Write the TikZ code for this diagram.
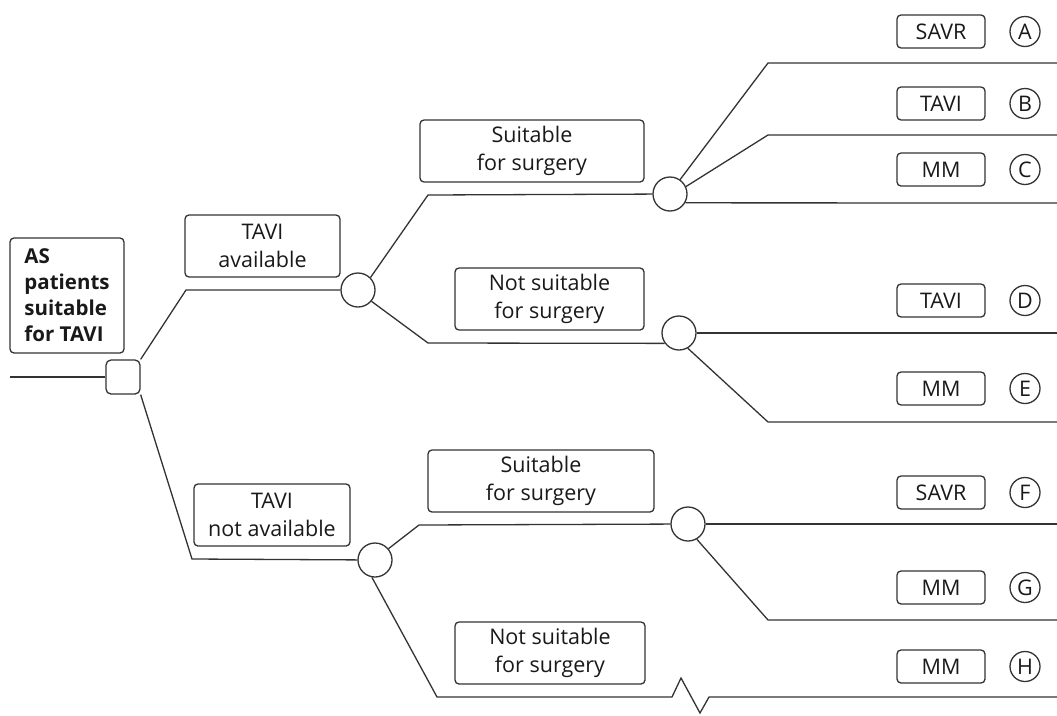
\documentclass[tikz,border=0pt]{standalone}
\usepackage{fontspec}
\setmainfont{Open Sans}
\begin{document}
\begin{tikzpicture}[x=1pt, y=-1pt, line width=1.3pt, color=black!80,
  every node/.style={font=\fontsize{21.5}{27.5}\selectfont, text=black!90}]
  \tikzstyle{opt}=[draw, rounded corners=4pt, align=center, inner sep=0pt, minimum height=62]
  \tikzstyle{res}=[draw, rounded corners=4pt, inner sep=0pt, minimum width=88, minimum height=33]
  \tikzstyle{lbl}=[draw, circle, inner sep=0pt, minimum size=30]
  \tikzstyle{chance}=[draw, circle, inner sep=0pt, minimum size=34]
  \useasboundingbox (0,0) rectangle (1057,715);
  % decision and chance nodes
  \node[draw, rounded corners=5pt, minimum size=34, inner sep=0pt] (dec) at (123,377) {};
  \node[chance] (c1) at (358,290) {};
  \node[chance] (c2) at (375,560) {};
  \node[chance] (c3) at (670,194) {};
  \node[chance] (c4) at (679,333) {};
  \node[chance] (c5) at (688,524) {};
  % labels on the branches
  \node[draw, rounded corners=4pt, minimum width=114, minimum height=115, inner sep=0pt,
        align=left, font=\fontsize{20.5}{26}\selectfont\bfseries] (pat) at (67,295.5)
        {AS\\patients\\suitable\\for TAVI};
  \node[opt, minimum width=155] (avail) at (262.5,246) {TAVI\\available};
  \node[opt, minimum width=156] (notav) at (272,515) {TAVI\\not available};
  \node[opt, minimum width=224] (suit1) at (532,151) {Suitable\\for surgery};
  \node[opt, minimum width=189] (nsuit1) at (549.5,299) {Not suitable\\for surgery};
  \node[opt, minimum width=226] (suit2) at (541,481) {Suitable\\for surgery};
  \node[opt, minimum width=190] (nsuit2) at (550,653) {Not suitable\\for surgery};
  % outcomes
  \foreach \n/\t/\y in {A/SAVR/31.5, B/TAVI/103.5, C/MM/169.5, D/TAVI/300.5,
                        E/MM/388.5, F/SAVR/492.5, G/MM/587.5, H/MM/666.5} {
    \node[res] (o\n) at (941,\y) {\t};
    \node[lbl] (l\n) at (1025,\y) {\n};
  }
  % free ends
  \coordinate (in) at (10,377);
  \coordinate (eA) at (1057,63);  \coordinate (eB) at (1057,135);
  \coordinate (eC) at (1057,203); \coordinate (eD) at (1057,333);
  \coordinate (eE) at (1057,422); \coordinate (eF) at (1057,524);
  \coordinate (eG) at (1057,620); \coordinate (eH) at (1057,697);
  % branches
  \draw (in) -- (dec);
  \draw (dec.north east) -- (186,290) -- (c1);
  \draw (dec.south east) -- (192,559) -- (c2);
  \draw (c1.45) -- (428,195) -- (c3);
  \draw (c1.-40) -- (428,343) -- (c4.216);
  \draw (c3.55) -- (768,63) -- (eA);
  \draw (c3.25) -- (768,135) -- (eB);
  \draw (c3.-30) -- (eC);
  \draw (c4) -- (eD);
  \draw (c4.-60) -- (768,422) -- (eE);
  \draw (c2.40) -- (419,525) -- (c5);
  \draw (c5) -- (eF);
  \draw (c5.-60) -- (768,620) -- (eG);
  \draw (c2.-100) -- (437,697) -- (672,697) -- (681,678) -- (700,713) -- (709,697) -- (eH);
\end{tikzpicture}
\end{document}
